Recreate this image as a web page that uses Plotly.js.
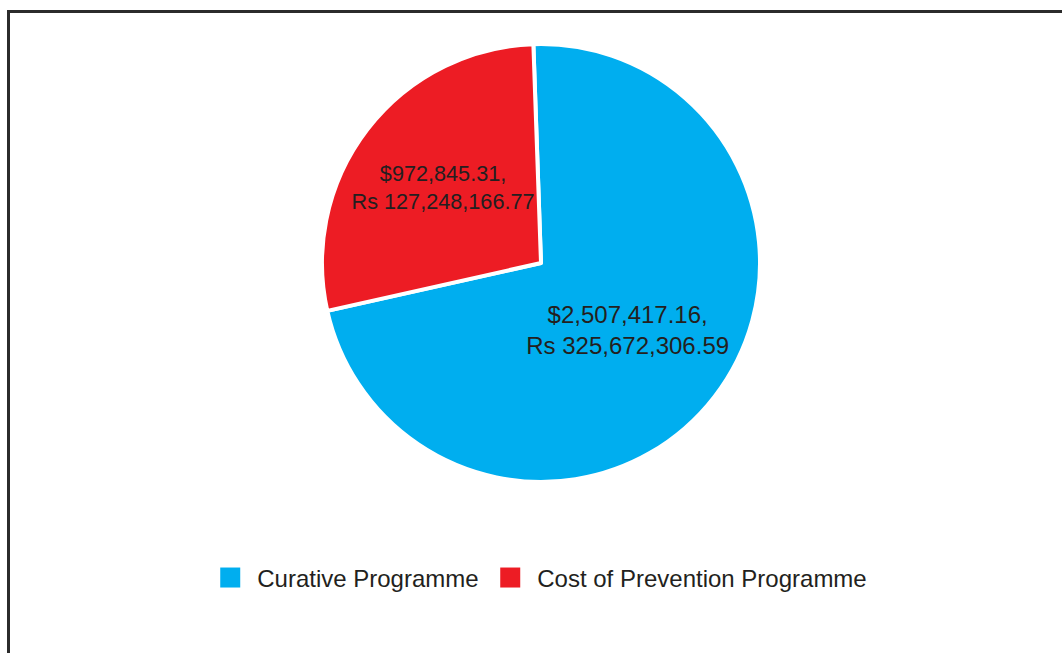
<!DOCTYPE html>
<html>
<head>
<meta charset="utf-8">
<script src="https://cdn.plot.ly/plotly-3.0.1.min.js"></script>
<style>
html,body{margin:0;padding:0;background:#fff;}
#wrap{position:relative;width:1062px;height:653px;overflow:hidden;}
#chart{position:absolute;left:0;top:0;width:1062px;height:653px;}
#frame{position:absolute;left:7px;top:10px;width:1100px;height:700px;border-left:3px solid #2b2b2b;border-top:3px solid #2b2b2b;pointer-events:none;}
</style>
</head>
<body>
<div id="wrap"><div id="chart"></div><div id="frame"></div></div>
<script>
const categories = ["Curative Programme", "Cost of Prevention Programme"];
const usdValues = [2507417.16, 972845.31];
const rsLabels = ["Rs 325,672,306.59", "Rs 127,248,166.77"];
const usdLabels = ["$2,507,417.16,", "$972,845.31,"];
const colors = ["#00AEEF", "#ED1C24"];

const labelText = usdLabels.map((u, i) => u + "<br>" + rsLabels[i]);

const trace = {
  type: "pie",
  labels: categories,
  values: usdValues,
  text: labelText,
  textinfo: "text",
  hoverinfo: "label+value",
  textposition: "inside",
  insidetextorientation: "horizontal",
  sort: false,
  direction: "clockwise",
  rotation: -2,
  marker: {colors: colors, line: {color: "#ffffff", width: 4}},
  insidetextfont: {family: "Liberation Sans, Arial, sans-serif", size: 24, color: "#231f20"},
  showlegend: true
};

const layout = {
  width: 1062,
  height: 653,
  paper_bgcolor: "#ffffff",
  plot_bgcolor: "#ffffff",
  margin: {l: 20, r: 0, t: 44, b: 171, autoexpand: false},
  showlegend: true,
  legend: {
    orientation: "h",
    x: 0.458, xanchor: "center",
    y: -0.219, yanchor: "middle",
    entrywidth: 235,
    entrywidthmode: "pixels",
    font: {family: "Liberation Sans, Arial, sans-serif", size: 24, color: "#231f20"},
    traceorder: "normal"
  },
  font: {family: "Liberation Sans, Arial, sans-serif", color: "#231f20"}
};

Plotly.newPlot("chart", [trace], layout, {displayModeBar: false, staticPlot: true}).then(function(gd){
  document.querySelectorAll("#chart .legendpoints path").forEach(function(p){
    p.setAttribute("d", "M3,10H-17V-10H3Z");
    p.style.strokeWidth = "0px";
  });
  document.querySelectorAll("#chart .legend [clip-path], #chart .legend").forEach(function(el){
    el.removeAttribute("clip-path");
  });
});
</script>
</body>
</html>
